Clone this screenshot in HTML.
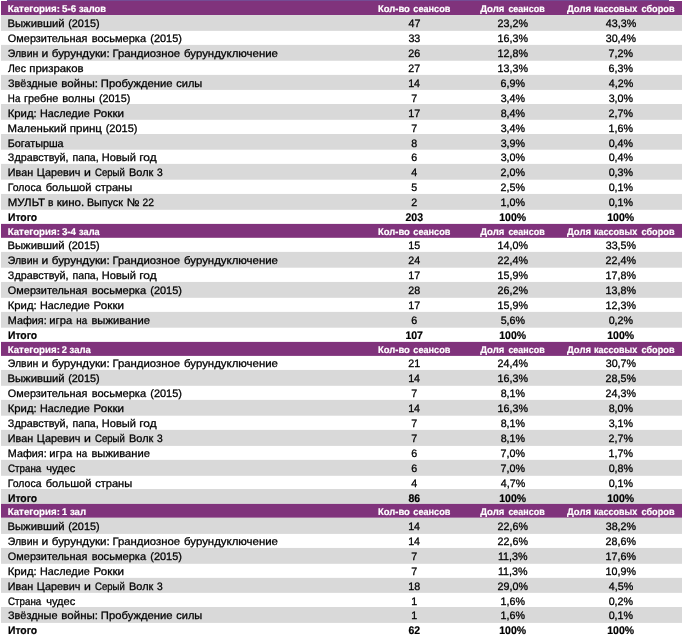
<!DOCTYPE html>
<html lang="ru"><head><meta charset="utf-8"><title>Категории</title>
<style>
html,body{margin:0;padding:0;background:#fff}
body{width:682px;height:637px;overflow:hidden;position:relative;font-family:"Liberation Sans",sans-serif}
svg{position:absolute;left:0;top:0;display:block}
text{font-family:"Liberation Sans",sans-serif;text-rendering:geometricPrecision;white-space:pre}
.d{font-size:10.8px;fill:#000;stroke:#000;stroke-width:.28px}
.t{font-size:11.0px;fill:#000;font-weight:bold;stroke:#000;stroke-width:.2px}
.h{font-size:9.8px;fill:#fff;font-weight:bold;stroke:#fff;stroke-width:.2px}
</style></head><body>
<svg width="682" height="637" viewBox="0 0 682 637">
<rect x="0" y="0" width="682" height="637" fill="#fff"/>
<rect x="1" y="0.00" width="681" height="15.07" fill="#80337C"/>
<rect x="1" y="15.07" width="681" height="15.78" fill="#D9D9D9"/>
<rect x="1" y="44.90" width="681" height="15.85" fill="#D9D9D9"/>
<rect x="1" y="74.90" width="681" height="15.00" fill="#D9D9D9"/>
<rect x="1" y="104.00" width="681" height="15.80" fill="#D9D9D9"/>
<rect x="1" y="134.00" width="681" height="15.70" fill="#D9D9D9"/>
<rect x="1" y="163.90" width="681" height="15.80" fill="#D9D9D9"/>
<rect x="1" y="193.95" width="681" height="15.85" fill="#D9D9D9"/>
<rect x="1" y="223.90" width="681" height="13.90" fill="#80337C"/>
<rect x="1" y="251.90" width="681" height="15.80" fill="#D9D9D9"/>
<rect x="1" y="281.95" width="681" height="15.85" fill="#D9D9D9"/>
<rect x="1" y="311.90" width="681" height="15.80" fill="#D9D9D9"/>
<rect x="1" y="341.90" width="681" height="14.00" fill="#80337C"/>
<rect x="1" y="369.95" width="681" height="15.85" fill="#D9D9D9"/>
<rect x="1" y="399.90" width="681" height="15.80" fill="#D9D9D9"/>
<rect x="1" y="429.90" width="681" height="16.00" fill="#D9D9D9"/>
<rect x="1" y="459.85" width="681" height="15.95" fill="#D9D9D9"/>
<rect x="1" y="489.00" width="681" height="14.90" fill="#D9D9D9"/>
<rect x="1" y="503.90" width="681" height="13.90" fill="#80337C"/>
<rect x="1" y="517.80" width="681" height="16.10" fill="#D9D9D9"/>
<rect x="1" y="547.95" width="681" height="15.85" fill="#D9D9D9"/>
<rect x="1" y="577.85" width="681" height="15.00" fill="#D9D9D9"/>
<rect x="1" y="607.00" width="681" height="15.90" fill="#D9D9D9"/>
<rect x="0" y="0" width="7" height="1" fill="#fff"/><rect x="7" y="0" width="662" height="1" fill="#744C94"/><rect x="669" y="0" width="13" height="1" fill="#fff"/>
<text class="h" y="11.80"><tspan x="7.69" textLength="52.21" lengthAdjust="spacingAndGlyphs">Категория:</tspan> <tspan x="61.95" textLength="14.20" lengthAdjust="spacingAndGlyphs">5-6</tspan> <tspan x="79.05" textLength="26.89" lengthAdjust="spacingAndGlyphs">залов</tspan></text><text class="h" y="11.80"><tspan x="378.01" textLength="31.80" lengthAdjust="spacingAndGlyphs">Кол-во</tspan> <tspan x="413.31" textLength="37.02" lengthAdjust="spacingAndGlyphs">сеансов</tspan></text><text class="h" y="11.80"><tspan x="480.20" textLength="24.15" lengthAdjust="spacingAndGlyphs">Доля</tspan> <tspan x="508.42" textLength="36.21" lengthAdjust="spacingAndGlyphs">сеансов</tspan></text><text class="h" y="11.80"><tspan x="567.00" textLength="23.94" lengthAdjust="spacingAndGlyphs">Доля</tspan> <tspan x="594.04" textLength="43.20" lengthAdjust="spacingAndGlyphs">кассовых</tspan> <tspan x="641.51" textLength="33.02" lengthAdjust="spacingAndGlyphs">сборов</tspan></text>
<text class="d" y="27.10"><tspan x="7.52" textLength="57.04" lengthAdjust="spacingAndGlyphs">Выживший</tspan> <tspan x="68.19" textLength="31.47" lengthAdjust="spacingAndGlyphs">(2015)</tspan></text><text class="d" x="408.47" y="27.10" textLength="11.93" lengthAdjust="spacingAndGlyphs">47</text><text class="d" x="497.60" y="27.10" textLength="30.42" lengthAdjust="spacingAndGlyphs">23,2%</text><text class="d" x="605.77" y="27.10" textLength="30.42" lengthAdjust="spacingAndGlyphs">43,3%</text>
<text class="d" y="42.03"><tspan x="7.89" textLength="79.63" lengthAdjust="spacingAndGlyphs">Омерзительная</tspan> <tspan x="91.71" textLength="54.42" lengthAdjust="spacingAndGlyphs">восьмерка</tspan> <tspan x="150.29" textLength="31.68" lengthAdjust="spacingAndGlyphs">(2015)</tspan></text><text class="d" x="408.38" y="42.03" textLength="11.93" lengthAdjust="spacingAndGlyphs">33</text><text class="d" x="497.52" y="42.03" textLength="30.42" lengthAdjust="spacingAndGlyphs">16,3%</text><text class="d" x="605.68" y="42.03" textLength="30.42" lengthAdjust="spacingAndGlyphs">30,4%</text>
<text class="d" y="56.96"><tspan x="7.81" textLength="30.50" lengthAdjust="spacingAndGlyphs">Элвин</tspan> <tspan x="41.64" textLength="6.77" lengthAdjust="spacingAndGlyphs">и</tspan> <tspan x="51.76" textLength="57.99" lengthAdjust="spacingAndGlyphs">бурундуки:</tspan> <tspan x="112.51" textLength="67.54" lengthAdjust="spacingAndGlyphs">Грандиозное</tspan> <tspan x="184.06" textLength="93.90" lengthAdjust="spacingAndGlyphs">бурундуключение</tspan></text><text class="d" x="408.30" y="56.96" textLength="11.93" lengthAdjust="spacingAndGlyphs">26</text><text class="d" x="497.52" y="56.96" textLength="30.42" lengthAdjust="spacingAndGlyphs">12,8%</text><text class="d" x="608.58" y="56.96" textLength="24.45" lengthAdjust="spacingAndGlyphs">7,2%</text>
<text class="d" y="71.89"><tspan x="8.00" textLength="17.86" lengthAdjust="spacingAndGlyphs">Лес</tspan> <tspan x="29.39" textLength="54.17" lengthAdjust="spacingAndGlyphs">призраков</tspan></text><text class="d" x="408.30" y="71.89" textLength="11.93" lengthAdjust="spacingAndGlyphs">27</text><text class="d" x="497.52" y="71.89" textLength="30.42" lengthAdjust="spacingAndGlyphs">13,3%</text><text class="d" x="608.58" y="71.89" textLength="24.45" lengthAdjust="spacingAndGlyphs">6,3%</text>
<text class="d" y="86.82"><tspan x="7.96" textLength="49.58" lengthAdjust="spacingAndGlyphs">Звёздные</tspan> <tspan x="61.38" textLength="36.66" lengthAdjust="spacingAndGlyphs">войны:</tspan> <tspan x="100.82" textLength="71.74" lengthAdjust="spacingAndGlyphs">Пробуждение</tspan> <tspan x="176.26" textLength="26.03" lengthAdjust="spacingAndGlyphs">силы</tspan></text><text class="d" x="408.13" y="86.82" textLength="11.93" lengthAdjust="spacingAndGlyphs">14</text><text class="d" x="500.58" y="86.82" textLength="24.45" lengthAdjust="spacingAndGlyphs">6,9%</text><text class="d" x="608.75" y="86.82" textLength="24.45" lengthAdjust="spacingAndGlyphs">4,2%</text>
<text class="d" y="101.75"><tspan x="7.84" textLength="12.50" lengthAdjust="spacingAndGlyphs">На</tspan> <tspan x="23.92" textLength="34.32" lengthAdjust="spacingAndGlyphs">гребне</tspan> <tspan x="62.20" textLength="32.60" lengthAdjust="spacingAndGlyphs">волны</tspan> <tspan x="98.99" textLength="31.27" lengthAdjust="spacingAndGlyphs">(2015)</tspan></text><text class="d" x="411.28" y="101.75" textLength="5.97" lengthAdjust="spacingAndGlyphs">7</text><text class="d" x="500.67" y="101.75" textLength="24.45" lengthAdjust="spacingAndGlyphs">3,4%</text><text class="d" x="608.67" y="101.75" textLength="24.45" lengthAdjust="spacingAndGlyphs">3,0%</text>
<text class="d" y="116.68"><tspan x="7.71" textLength="29.01" lengthAdjust="spacingAndGlyphs">Крид:</tspan> <tspan x="40.06" textLength="49.68" lengthAdjust="spacingAndGlyphs">Наследие</tspan> <tspan x="93.59" textLength="30.39" lengthAdjust="spacingAndGlyphs">Рокки</tspan></text><text class="d" x="408.22" y="116.68" textLength="11.93" lengthAdjust="spacingAndGlyphs">17</text><text class="d" x="500.67" y="116.68" textLength="24.45" lengthAdjust="spacingAndGlyphs">8,4%</text><text class="d" x="608.58" y="116.68" textLength="24.45" lengthAdjust="spacingAndGlyphs">2,7%</text>
<text class="d" y="131.61"><tspan x="7.61" textLength="58.96" lengthAdjust="spacingAndGlyphs">Маленький</tspan> <tspan x="69.88" textLength="32.04" lengthAdjust="spacingAndGlyphs">принц</tspan> <tspan x="105.68" textLength="31.78" lengthAdjust="spacingAndGlyphs">(2015)</tspan></text><text class="d" x="411.28" y="131.61" textLength="5.97" lengthAdjust="spacingAndGlyphs">7</text><text class="d" x="500.67" y="131.61" textLength="24.45" lengthAdjust="spacingAndGlyphs">3,4%</text><text class="d" x="608.50" y="131.61" textLength="24.45" lengthAdjust="spacingAndGlyphs">1,6%</text>
<text class="d" y="146.54"><tspan x="7.66" textLength="55.98" lengthAdjust="spacingAndGlyphs">Богатырша</tspan></text><text class="d" x="411.37" y="146.54" textLength="5.97" lengthAdjust="spacingAndGlyphs">8</text><text class="d" x="500.67" y="146.54" textLength="24.45" lengthAdjust="spacingAndGlyphs">3,9%</text><text class="d" x="608.67" y="146.54" textLength="24.45" lengthAdjust="spacingAndGlyphs">0,4%</text>
<text class="d" y="161.47"><tspan x="7.86" textLength="60.74" lengthAdjust="spacingAndGlyphs">Здравствуй,</tspan> <tspan x="72.54" textLength="26.15" lengthAdjust="spacingAndGlyphs">папа,</tspan> <tspan x="101.84" textLength="34.11" lengthAdjust="spacingAndGlyphs">Новый</tspan> <tspan x="139.25" textLength="17.41" lengthAdjust="spacingAndGlyphs">год</tspan></text><text class="d" x="411.28" y="161.47" textLength="5.97" lengthAdjust="spacingAndGlyphs">6</text><text class="d" x="500.67" y="161.47" textLength="24.45" lengthAdjust="spacingAndGlyphs">3,0%</text><text class="d" x="608.67" y="161.47" textLength="24.45" lengthAdjust="spacingAndGlyphs">0,4%</text>
<text class="d" y="176.40"><tspan x="7.86" textLength="25.27" lengthAdjust="spacingAndGlyphs">Иван</tspan> <tspan x="36.76" textLength="43.68" lengthAdjust="spacingAndGlyphs">Царевич</tspan> <tspan x="84.13" textLength="6.89" lengthAdjust="spacingAndGlyphs">и</tspan> <tspan x="95.05" textLength="29.81" lengthAdjust="spacingAndGlyphs">Серый</tspan> <tspan x="129.05" textLength="24.28" lengthAdjust="spacingAndGlyphs">Волк</tspan> <tspan x="156.88" textLength="5.71" lengthAdjust="spacingAndGlyphs">3</tspan></text><text class="d" x="411.37" y="176.40" textLength="5.97" lengthAdjust="spacingAndGlyphs">4</text><text class="d" x="500.58" y="176.40" textLength="24.45" lengthAdjust="spacingAndGlyphs">2,0%</text><text class="d" x="608.67" y="176.40" textLength="24.45" lengthAdjust="spacingAndGlyphs">0,3%</text>
<text class="d" y="191.33"><tspan x="7.78" textLength="33.75" lengthAdjust="spacingAndGlyphs">Голоса</tspan> <tspan x="45.68" textLength="45.77" lengthAdjust="spacingAndGlyphs">большой</tspan> <tspan x="95.15" textLength="37.04" lengthAdjust="spacingAndGlyphs">страны</tspan></text><text class="d" x="411.37" y="191.33" textLength="5.97" lengthAdjust="spacingAndGlyphs">5</text><text class="d" x="500.58" y="191.33" textLength="24.45" lengthAdjust="spacingAndGlyphs">2,5%</text><text class="d" x="608.67" y="191.33" textLength="24.45" lengthAdjust="spacingAndGlyphs">0,1%</text>
<text class="d" y="206.26"><tspan x="7.71" textLength="37.29" lengthAdjust="spacingAndGlyphs">МУЛЬТ</tspan> <tspan x="47.96" textLength="5.45" lengthAdjust="spacingAndGlyphs">в</tspan> <tspan x="56.68" textLength="27.46" lengthAdjust="spacingAndGlyphs">кино.</tspan> <tspan x="86.96" textLength="35.97" lengthAdjust="spacingAndGlyphs">Выпуск</tspan> <tspan x="126.67" textLength="12.83" lengthAdjust="spacingAndGlyphs">№</tspan> <tspan x="142.52" textLength="11.40" lengthAdjust="spacingAndGlyphs">22</tspan></text><text class="d" x="411.28" y="206.26" textLength="5.97" lengthAdjust="spacingAndGlyphs">2</text><text class="d" x="500.50" y="206.26" textLength="24.45" lengthAdjust="spacingAndGlyphs">1,0%</text><text class="d" x="608.67" y="206.26" textLength="24.45" lengthAdjust="spacingAndGlyphs">0,1%</text>
<text class="t" y="220.90"><tspan x="7.95" textLength="29.19" lengthAdjust="spacingAndGlyphs">Итого</tspan></text><text class="t" x="405.51" y="220.90" textLength="17.51" lengthAdjust="spacingAndGlyphs">203</text><text class="t" x="499.23" y="220.90" textLength="26.84" lengthAdjust="spacingAndGlyphs">100%</text><text class="t" x="607.23" y="220.90" textLength="26.84" lengthAdjust="spacingAndGlyphs">100%</text>
<text class="h" y="235.00"><tspan x="7.69" textLength="52.21" lengthAdjust="spacingAndGlyphs">Категория:</tspan> <tspan x="61.95" textLength="14.09" lengthAdjust="spacingAndGlyphs">3-4</tspan> <tspan x="79.06" textLength="20.59" lengthAdjust="spacingAndGlyphs">зала</tspan></text><text class="h" y="235.00"><tspan x="378.01" textLength="31.80" lengthAdjust="spacingAndGlyphs">Кол-во</tspan> <tspan x="413.31" textLength="37.02" lengthAdjust="spacingAndGlyphs">сеансов</tspan></text><text class="h" y="235.00"><tspan x="480.20" textLength="24.15" lengthAdjust="spacingAndGlyphs">Доля</tspan> <tspan x="508.42" textLength="36.21" lengthAdjust="spacingAndGlyphs">сеансов</tspan></text><text class="h" y="235.00"><tspan x="567.00" textLength="23.94" lengthAdjust="spacingAndGlyphs">Доля</tspan> <tspan x="594.04" textLength="43.20" lengthAdjust="spacingAndGlyphs">кассовых</tspan> <tspan x="641.51" textLength="33.02" lengthAdjust="spacingAndGlyphs">сборов</tspan></text>
<text class="d" y="249.00"><tspan x="7.52" textLength="57.04" lengthAdjust="spacingAndGlyphs">Выживший</tspan> <tspan x="68.19" textLength="31.47" lengthAdjust="spacingAndGlyphs">(2015)</tspan></text><text class="d" x="408.22" y="249.00" textLength="11.93" lengthAdjust="spacingAndGlyphs">15</text><text class="d" x="497.52" y="249.00" textLength="30.42" lengthAdjust="spacingAndGlyphs">14,0%</text><text class="d" x="605.68" y="249.00" textLength="30.42" lengthAdjust="spacingAndGlyphs">33,5%</text>
<text class="d" y="263.97"><tspan x="7.81" textLength="30.50" lengthAdjust="spacingAndGlyphs">Элвин</tspan> <tspan x="41.64" textLength="6.77" lengthAdjust="spacingAndGlyphs">и</tspan> <tspan x="51.76" textLength="57.99" lengthAdjust="spacingAndGlyphs">бурундуки:</tspan> <tspan x="112.51" textLength="67.54" lengthAdjust="spacingAndGlyphs">Грандиозное</tspan> <tspan x="184.06" textLength="93.90" lengthAdjust="spacingAndGlyphs">бурундуключение</tspan></text><text class="d" x="408.22" y="263.97" textLength="11.93" lengthAdjust="spacingAndGlyphs">24</text><text class="d" x="497.60" y="263.97" textLength="30.42" lengthAdjust="spacingAndGlyphs">22,4%</text><text class="d" x="605.60" y="263.97" textLength="30.42" lengthAdjust="spacingAndGlyphs">22,4%</text>
<text class="d" y="278.94"><tspan x="7.86" textLength="60.74" lengthAdjust="spacingAndGlyphs">Здравствуй,</tspan> <tspan x="72.54" textLength="26.15" lengthAdjust="spacingAndGlyphs">папа,</tspan> <tspan x="101.84" textLength="34.11" lengthAdjust="spacingAndGlyphs">Новый</tspan> <tspan x="139.25" textLength="17.41" lengthAdjust="spacingAndGlyphs">год</tspan></text><text class="d" x="408.22" y="278.94" textLength="11.93" lengthAdjust="spacingAndGlyphs">17</text><text class="d" x="497.52" y="278.94" textLength="30.42" lengthAdjust="spacingAndGlyphs">15,9%</text><text class="d" x="605.52" y="278.94" textLength="30.42" lengthAdjust="spacingAndGlyphs">17,8%</text>
<text class="d" y="293.91"><tspan x="7.89" textLength="79.63" lengthAdjust="spacingAndGlyphs">Омерзительная</tspan> <tspan x="91.71" textLength="54.42" lengthAdjust="spacingAndGlyphs">восьмерка</tspan> <tspan x="150.29" textLength="31.68" lengthAdjust="spacingAndGlyphs">(2015)</tspan></text><text class="d" x="408.30" y="293.91" textLength="11.93" lengthAdjust="spacingAndGlyphs">28</text><text class="d" x="497.60" y="293.91" textLength="30.42" lengthAdjust="spacingAndGlyphs">26,2%</text><text class="d" x="605.52" y="293.91" textLength="30.42" lengthAdjust="spacingAndGlyphs">13,8%</text>
<text class="d" y="308.88"><tspan x="7.71" textLength="29.01" lengthAdjust="spacingAndGlyphs">Крид:</tspan> <tspan x="40.06" textLength="49.68" lengthAdjust="spacingAndGlyphs">Наследие</tspan> <tspan x="93.59" textLength="30.39" lengthAdjust="spacingAndGlyphs">Рокки</tspan></text><text class="d" x="408.22" y="308.88" textLength="11.93" lengthAdjust="spacingAndGlyphs">17</text><text class="d" x="497.52" y="308.88" textLength="30.42" lengthAdjust="spacingAndGlyphs">15,9%</text><text class="d" x="605.52" y="308.88" textLength="30.42" lengthAdjust="spacingAndGlyphs">12,3%</text>
<text class="d" y="323.85"><tspan x="7.86" textLength="38.82" lengthAdjust="spacingAndGlyphs">Мафия:</tspan> <tspan x="49.30" textLength="22.83" lengthAdjust="spacingAndGlyphs">игра</tspan> <tspan x="76.29" textLength="10.85" lengthAdjust="spacingAndGlyphs">на</tspan> <tspan x="91.40" textLength="58.56" lengthAdjust="spacingAndGlyphs">выживание</tspan></text><text class="d" x="411.28" y="323.85" textLength="5.97" lengthAdjust="spacingAndGlyphs">6</text><text class="d" x="500.67" y="323.85" textLength="24.45" lengthAdjust="spacingAndGlyphs">5,6%</text><text class="d" x="608.67" y="323.85" textLength="24.45" lengthAdjust="spacingAndGlyphs">0,2%</text>
<text class="t" y="338.75"><tspan x="7.95" textLength="29.19" lengthAdjust="spacingAndGlyphs">Итого</tspan></text><text class="t" x="405.43" y="338.75" textLength="17.51" lengthAdjust="spacingAndGlyphs">107</text><text class="t" x="499.23" y="338.75" textLength="26.84" lengthAdjust="spacingAndGlyphs">100%</text><text class="t" x="607.23" y="338.75" textLength="26.84" lengthAdjust="spacingAndGlyphs">100%</text>
<text class="h" y="352.80"><tspan x="7.69" textLength="52.21" lengthAdjust="spacingAndGlyphs">Категория:</tspan> <tspan x="61.81" textLength="5.18" lengthAdjust="spacingAndGlyphs">2</tspan> <tspan x="69.55" textLength="21.19" lengthAdjust="spacingAndGlyphs">зала</tspan></text><text class="h" y="352.80"><tspan x="378.01" textLength="31.80" lengthAdjust="spacingAndGlyphs">Кол-во</tspan> <tspan x="413.31" textLength="37.02" lengthAdjust="spacingAndGlyphs">сеансов</tspan></text><text class="h" y="352.80"><tspan x="480.20" textLength="24.15" lengthAdjust="spacingAndGlyphs">Доля</tspan> <tspan x="508.42" textLength="36.21" lengthAdjust="spacingAndGlyphs">сеансов</tspan></text><text class="h" y="352.80"><tspan x="567.00" textLength="23.94" lengthAdjust="spacingAndGlyphs">Доля</tspan> <tspan x="594.04" textLength="43.20" lengthAdjust="spacingAndGlyphs">кассовых</tspan> <tspan x="641.51" textLength="33.02" lengthAdjust="spacingAndGlyphs">сборов</tspan></text>
<text class="d" y="367.20"><tspan x="7.81" textLength="30.50" lengthAdjust="spacingAndGlyphs">Элвин</tspan> <tspan x="41.64" textLength="6.77" lengthAdjust="spacingAndGlyphs">и</tspan> <tspan x="51.76" textLength="57.99" lengthAdjust="spacingAndGlyphs">бурундуки:</tspan> <tspan x="112.51" textLength="67.54" lengthAdjust="spacingAndGlyphs">Грандиозное</tspan> <tspan x="184.06" textLength="93.90" lengthAdjust="spacingAndGlyphs">бурундуключение</tspan></text><text class="d" x="408.30" y="367.20" textLength="11.93" lengthAdjust="spacingAndGlyphs">21</text><text class="d" x="497.60" y="367.20" textLength="30.42" lengthAdjust="spacingAndGlyphs">24,4%</text><text class="d" x="605.68" y="367.20" textLength="30.42" lengthAdjust="spacingAndGlyphs">30,7%</text>
<text class="d" y="382.15"><tspan x="7.52" textLength="57.04" lengthAdjust="spacingAndGlyphs">Выживший</tspan> <tspan x="68.19" textLength="31.47" lengthAdjust="spacingAndGlyphs">(2015)</tspan></text><text class="d" x="408.13" y="382.15" textLength="11.93" lengthAdjust="spacingAndGlyphs">14</text><text class="d" x="497.52" y="382.15" textLength="30.42" lengthAdjust="spacingAndGlyphs">16,3%</text><text class="d" x="605.60" y="382.15" textLength="30.42" lengthAdjust="spacingAndGlyphs">28,5%</text>
<text class="d" y="397.10"><tspan x="7.89" textLength="79.63" lengthAdjust="spacingAndGlyphs">Омерзительная</tspan> <tspan x="91.71" textLength="54.42" lengthAdjust="spacingAndGlyphs">восьмерка</tspan> <tspan x="150.29" textLength="31.68" lengthAdjust="spacingAndGlyphs">(2015)</tspan></text><text class="d" x="411.28" y="397.10" textLength="5.97" lengthAdjust="spacingAndGlyphs">7</text><text class="d" x="500.67" y="397.10" textLength="24.45" lengthAdjust="spacingAndGlyphs">8,1%</text><text class="d" x="605.60" y="397.10" textLength="30.42" lengthAdjust="spacingAndGlyphs">24,3%</text>
<text class="d" y="412.05"><tspan x="7.71" textLength="29.01" lengthAdjust="spacingAndGlyphs">Крид:</tspan> <tspan x="40.06" textLength="49.68" lengthAdjust="spacingAndGlyphs">Наследие</tspan> <tspan x="93.59" textLength="30.39" lengthAdjust="spacingAndGlyphs">Рокки</tspan></text><text class="d" x="408.13" y="412.05" textLength="11.93" lengthAdjust="spacingAndGlyphs">14</text><text class="d" x="497.52" y="412.05" textLength="30.42" lengthAdjust="spacingAndGlyphs">16,3%</text><text class="d" x="608.67" y="412.05" textLength="24.45" lengthAdjust="spacingAndGlyphs">8,0%</text>
<text class="d" y="427.00"><tspan x="7.86" textLength="60.74" lengthAdjust="spacingAndGlyphs">Здравствуй,</tspan> <tspan x="72.54" textLength="26.15" lengthAdjust="spacingAndGlyphs">папа,</tspan> <tspan x="101.84" textLength="34.11" lengthAdjust="spacingAndGlyphs">Новый</tspan> <tspan x="139.25" textLength="17.41" lengthAdjust="spacingAndGlyphs">год</tspan></text><text class="d" x="411.28" y="427.00" textLength="5.97" lengthAdjust="spacingAndGlyphs">7</text><text class="d" x="500.67" y="427.00" textLength="24.45" lengthAdjust="spacingAndGlyphs">8,1%</text><text class="d" x="608.67" y="427.00" textLength="24.45" lengthAdjust="spacingAndGlyphs">3,1%</text>
<text class="d" y="441.95"><tspan x="7.86" textLength="25.27" lengthAdjust="spacingAndGlyphs">Иван</tspan> <tspan x="36.76" textLength="43.68" lengthAdjust="spacingAndGlyphs">Царевич</tspan> <tspan x="84.13" textLength="6.89" lengthAdjust="spacingAndGlyphs">и</tspan> <tspan x="95.05" textLength="29.81" lengthAdjust="spacingAndGlyphs">Серый</tspan> <tspan x="129.05" textLength="24.28" lengthAdjust="spacingAndGlyphs">Волк</tspan> <tspan x="156.88" textLength="5.71" lengthAdjust="spacingAndGlyphs">3</tspan></text><text class="d" x="411.28" y="441.95" textLength="5.97" lengthAdjust="spacingAndGlyphs">7</text><text class="d" x="500.67" y="441.95" textLength="24.45" lengthAdjust="spacingAndGlyphs">8,1%</text><text class="d" x="608.58" y="441.95" textLength="24.45" lengthAdjust="spacingAndGlyphs">2,7%</text>
<text class="d" y="456.90"><tspan x="7.86" textLength="38.82" lengthAdjust="spacingAndGlyphs">Мафия:</tspan> <tspan x="49.30" textLength="22.83" lengthAdjust="spacingAndGlyphs">игра</tspan> <tspan x="76.29" textLength="10.85" lengthAdjust="spacingAndGlyphs">на</tspan> <tspan x="91.40" textLength="58.56" lengthAdjust="spacingAndGlyphs">выживание</tspan></text><text class="d" x="411.28" y="456.90" textLength="5.97" lengthAdjust="spacingAndGlyphs">6</text><text class="d" x="500.58" y="456.90" textLength="24.45" lengthAdjust="spacingAndGlyphs">7,0%</text><text class="d" x="608.50" y="456.90" textLength="24.45" lengthAdjust="spacingAndGlyphs">1,7%</text>
<text class="d" y="471.85"><tspan x="8.04" textLength="33.30" lengthAdjust="spacingAndGlyphs">Страна</tspan> <tspan x="46.18" textLength="29.09" lengthAdjust="spacingAndGlyphs">чудес</tspan></text><text class="d" x="411.28" y="471.85" textLength="5.97" lengthAdjust="spacingAndGlyphs">6</text><text class="d" x="500.58" y="471.85" textLength="24.45" lengthAdjust="spacingAndGlyphs">7,0%</text><text class="d" x="608.67" y="471.85" textLength="24.45" lengthAdjust="spacingAndGlyphs">0,8%</text>
<text class="d" y="486.80"><tspan x="7.78" textLength="33.75" lengthAdjust="spacingAndGlyphs">Голоса</tspan> <tspan x="45.68" textLength="45.77" lengthAdjust="spacingAndGlyphs">большой</tspan> <tspan x="95.15" textLength="37.04" lengthAdjust="spacingAndGlyphs">страны</tspan></text><text class="d" x="411.37" y="486.80" textLength="5.97" lengthAdjust="spacingAndGlyphs">4</text><text class="d" x="500.75" y="486.80" textLength="24.45" lengthAdjust="spacingAndGlyphs">4,7%</text><text class="d" x="608.67" y="486.80" textLength="24.45" lengthAdjust="spacingAndGlyphs">0,1%</text>
<text class="t" y="501.70"><tspan x="7.95" textLength="29.19" lengthAdjust="spacingAndGlyphs">Итого</tspan></text><text class="t" x="408.43" y="501.70" textLength="11.67" lengthAdjust="spacingAndGlyphs">86</text><text class="t" x="499.23" y="501.70" textLength="26.84" lengthAdjust="spacingAndGlyphs">100%</text><text class="t" x="607.23" y="501.70" textLength="26.84" lengthAdjust="spacingAndGlyphs">100%</text>
<text class="h" y="515.00"><tspan x="7.69" textLength="52.21" lengthAdjust="spacingAndGlyphs">Категория:</tspan> <tspan x="61.92" textLength="5.18" lengthAdjust="spacingAndGlyphs">1</tspan> <tspan x="69.95" textLength="16.20" lengthAdjust="spacingAndGlyphs">зал</tspan></text><text class="h" y="515.00"><tspan x="378.01" textLength="31.80" lengthAdjust="spacingAndGlyphs">Кол-во</tspan> <tspan x="413.31" textLength="37.02" lengthAdjust="spacingAndGlyphs">сеансов</tspan></text><text class="h" y="515.00"><tspan x="480.20" textLength="24.15" lengthAdjust="spacingAndGlyphs">Доля</tspan> <tspan x="508.42" textLength="36.21" lengthAdjust="spacingAndGlyphs">сеансов</tspan></text><text class="h" y="515.00"><tspan x="567.00" textLength="23.94" lengthAdjust="spacingAndGlyphs">Доля</tspan> <tspan x="594.04" textLength="43.20" lengthAdjust="spacingAndGlyphs">кассовых</tspan> <tspan x="641.51" textLength="33.02" lengthAdjust="spacingAndGlyphs">сборов</tspan></text>
<text class="d" y="530.20"><tspan x="7.52" textLength="57.04" lengthAdjust="spacingAndGlyphs">Выживший</tspan> <tspan x="68.19" textLength="31.47" lengthAdjust="spacingAndGlyphs">(2015)</tspan></text><text class="d" x="408.13" y="530.20" textLength="11.93" lengthAdjust="spacingAndGlyphs">14</text><text class="d" x="497.60" y="530.20" textLength="30.42" lengthAdjust="spacingAndGlyphs">22,6%</text><text class="d" x="605.68" y="530.20" textLength="30.42" lengthAdjust="spacingAndGlyphs">38,2%</text>
<text class="d" y="545.07"><tspan x="7.81" textLength="30.50" lengthAdjust="spacingAndGlyphs">Элвин</tspan> <tspan x="41.64" textLength="6.77" lengthAdjust="spacingAndGlyphs">и</tspan> <tspan x="51.76" textLength="57.99" lengthAdjust="spacingAndGlyphs">бурундуки:</tspan> <tspan x="112.51" textLength="67.54" lengthAdjust="spacingAndGlyphs">Грандиозное</tspan> <tspan x="184.06" textLength="93.90" lengthAdjust="spacingAndGlyphs">бурундуключение</tspan></text><text class="d" x="408.13" y="545.07" textLength="11.93" lengthAdjust="spacingAndGlyphs">14</text><text class="d" x="497.60" y="545.07" textLength="30.42" lengthAdjust="spacingAndGlyphs">22,6%</text><text class="d" x="605.60" y="545.07" textLength="30.42" lengthAdjust="spacingAndGlyphs">28,6%</text>
<text class="d" y="559.94"><tspan x="7.89" textLength="79.63" lengthAdjust="spacingAndGlyphs">Омерзительная</tspan> <tspan x="91.71" textLength="54.42" lengthAdjust="spacingAndGlyphs">восьмерка</tspan> <tspan x="150.29" textLength="31.68" lengthAdjust="spacingAndGlyphs">(2015)</tspan></text><text class="d" x="411.28" y="559.94" textLength="5.97" lengthAdjust="spacingAndGlyphs">7</text><text class="d" x="497.91" y="559.94" textLength="29.62" lengthAdjust="spacingAndGlyphs">11,3%</text><text class="d" x="605.52" y="559.94" textLength="30.42" lengthAdjust="spacingAndGlyphs">17,6%</text>
<text class="d" y="574.81"><tspan x="7.71" textLength="29.01" lengthAdjust="spacingAndGlyphs">Крид:</tspan> <tspan x="40.06" textLength="49.68" lengthAdjust="spacingAndGlyphs">Наследие</tspan> <tspan x="93.59" textLength="30.39" lengthAdjust="spacingAndGlyphs">Рокки</tspan></text><text class="d" x="411.28" y="574.81" textLength="5.97" lengthAdjust="spacingAndGlyphs">7</text><text class="d" x="497.91" y="574.81" textLength="29.62" lengthAdjust="spacingAndGlyphs">11,3%</text><text class="d" x="605.52" y="574.81" textLength="30.42" lengthAdjust="spacingAndGlyphs">10,9%</text>
<text class="d" y="589.68"><tspan x="7.86" textLength="25.27" lengthAdjust="spacingAndGlyphs">Иван</tspan> <tspan x="36.76" textLength="43.68" lengthAdjust="spacingAndGlyphs">Царевич</tspan> <tspan x="84.13" textLength="6.89" lengthAdjust="spacingAndGlyphs">и</tspan> <tspan x="95.05" textLength="29.81" lengthAdjust="spacingAndGlyphs">Серый</tspan> <tspan x="129.05" textLength="24.28" lengthAdjust="spacingAndGlyphs">Волк</tspan> <tspan x="156.88" textLength="5.71" lengthAdjust="spacingAndGlyphs">3</tspan></text><text class="d" x="408.22" y="589.68" textLength="11.93" lengthAdjust="spacingAndGlyphs">18</text><text class="d" x="497.60" y="589.68" textLength="30.42" lengthAdjust="spacingAndGlyphs">29,0%</text><text class="d" x="608.75" y="589.68" textLength="24.45" lengthAdjust="spacingAndGlyphs">4,5%</text>
<text class="d" y="604.55"><tspan x="8.04" textLength="33.30" lengthAdjust="spacingAndGlyphs">Страна</tspan> <tspan x="46.18" textLength="29.09" lengthAdjust="spacingAndGlyphs">чудес</tspan></text><text class="d" x="411.20" y="604.55" textLength="5.97" lengthAdjust="spacingAndGlyphs">1</text><text class="d" x="500.50" y="604.55" textLength="24.45" lengthAdjust="spacingAndGlyphs">1,6%</text><text class="d" x="608.67" y="604.55" textLength="24.45" lengthAdjust="spacingAndGlyphs">0,2%</text>
<text class="d" y="619.42"><tspan x="7.96" textLength="49.58" lengthAdjust="spacingAndGlyphs">Звёздные</tspan> <tspan x="61.38" textLength="36.66" lengthAdjust="spacingAndGlyphs">войны:</tspan> <tspan x="100.82" textLength="71.74" lengthAdjust="spacingAndGlyphs">Пробуждение</tspan> <tspan x="176.26" textLength="26.03" lengthAdjust="spacingAndGlyphs">силы</tspan></text><text class="d" x="411.20" y="619.42" textLength="5.97" lengthAdjust="spacingAndGlyphs">1</text><text class="d" x="500.50" y="619.42" textLength="24.45" lengthAdjust="spacingAndGlyphs">1,6%</text><text class="d" x="608.67" y="619.42" textLength="24.45" lengthAdjust="spacingAndGlyphs">0,1%</text>
<text class="t" y="634.20"><tspan x="7.95" textLength="29.19" lengthAdjust="spacingAndGlyphs">Итого</tspan></text><text class="t" x="408.43" y="634.20" textLength="11.67" lengthAdjust="spacingAndGlyphs">62</text><text class="t" x="499.23" y="634.20" textLength="26.84" lengthAdjust="spacingAndGlyphs">100%</text><text class="t" x="607.23" y="634.20" textLength="26.84" lengthAdjust="spacingAndGlyphs">100%</text>
</svg>
</body></html>
